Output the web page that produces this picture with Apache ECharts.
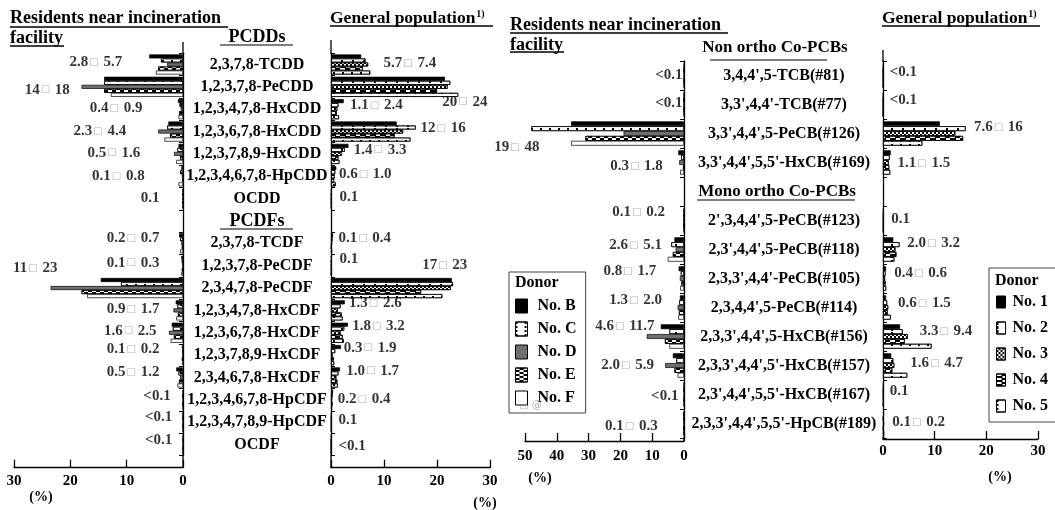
<!DOCTYPE html>
<html><head><meta charset="utf-8">
<script src="https://cdn.jsdelivr.net/npm/echarts@6/dist/echarts.min.js"></script>
<style>html,body{margin:0;padding:0;background:#fff}#c{width:1055px;height:510px}</style>
</head><body><div id="c"></div>
<script>
// ---------- DATA ----------
const pcddfCategories = ['2,3,7,8-TCDD','1,2,3,7,8-PeCDD','1,2,3,4,7,8-HxCDD','1,2,3,6,7,8-HxCDD','1,2,3,7,8,9-HxCDD','1,2,3,4,6,7,8-HpCDD','OCDD','PCDFs','2,3,7,8-TCDF','1,2,3,7,8-PeCDF','2,3,4,7,8-PeCDF','1,2,3,4,7,8-HxCDF','1,2,3,6,7,8-HxCDF','1,2,3,7,8,9-HxCDF','2,3,4,6,7,8-HxCDF','1,2,3,4,6,7,8-HpCDF','1,2,3,4,7,8,9-HpCDF','OCDF'];
const pcbCategories = ["3,4,4',5-TCB(#81)","3,3',4,4'-TCB(#77)","3,3',4,4',5-PeCB(#126)","3,3',4,4',5,5'-HxCB(#169)","Mono ortho Co-PCBs","2',3,4,4',5-PeCB(#123)","2,3',4,4',5-PeCB(#118)","2,3,3',4,4'-PeCB(#105)","2,3,4,4',5-PeCB(#114)","2,3,3',4,4',5-HxCB(#156)","2,3,3',4,4',5'-HxCB(#157)","2,3',4,4',5,5'-HxCB(#167)","2,3,3',4,4',5,5'-HpCB(#189)"];

const residentDonors = ['No. B','No. C','No. D','No. E','No. F'];
const generalDonors = ['No. 1','No. 2','No. 3','No. 4','No. 5'];

// Residents, PCDDs/PCDFs (%)
const resDF_B = [6.0, 14, 0.9, 2.6, 0.8, 0.3, 0.1, '-', 0.7, 0.3, 14.6, 1.3, 2.0, 0.2, 1.2, 0.05, 0.05, 0.03];
const resDF_C = [3.9, 14, 0.6, 2.8, 1.0, 0.5, 0.1, '-', 0.5, 0.2, 11, 1.0, 1.8, 0.1, 0.8, 0.05, 0.05, 0.03];
const resDF_D = [2.8, 18, 0.4, 4.4, 1.6, 0.2, 0.1, '-', 0.3, 0.1, 23.5, 1.7, 2.5, 0.1, 0.5, 0.05, 0.05, 0.03];
const resDF_E = [4.4, 14, 0.7, 2.3, 0.5, 0.1, 0.1, '-', 0.2, 0.2, 18, 0.9, 1.6, 0.2, 0.7, 0.05, 0.05, 0.03];
const resDF_F = [4.8, 12.8, 0.8, 3.3, 1.2, 0.8, 0.1, '-', 0.5, 0.3, 17, 1.2, 2.2, 0.1, 1.0, 0.05, 0.05, 0.03];
// General population, PCDDs/PCDFs (%)
const genDF_1 = [5.7, 21.5, 2.4, 12.4, 3.3, 1.0, 0.1, '-', 0.4, 0.1, 22.8, 2.6, 3.2, 1.9, 1.7, 0.4, 0.1, 0.05];
const genDF_2 = [6.5, 22.5, 1.4, 16, 2.6, 0.8, 0.1, '-', 0.3, 0.1, 23, 1.8, 2.5, 0.8, 1.4, 0.3, 0.1, 0.05];
const genDF_3 = [7.0, 22, 1.2, 13.6, 2.0, 0.7, 0.1, '-', 0.2, 0.1, 22.6, 1.3, 1.8, 0.3, 1.0, 0.2, 0.1, 0.05];
const genDF_4 = [6.0, 20, 1.1, 12, 1.4, 0.6, 0.1, '-', 0.1, 0.1, 17, 2.0, 2.2, 0.5, 1.2, 0.3, 0.1, 0.05];
const genDF_5 = [7.4, 24, 1.5, 15, 1.6, 0.9, 0.1, '-', 0.2, 0.1, 21, 2.2, 2.4, 0.6, 1.3, 0.2, 0.1, 0.05];
// Residents, Co-PCBs (%)
const resPCB_B = [0.05, 0.05, 35.5, 1.8, '-', 0.2, 3.0, 1.7, 1.3, 7.3, 3.5, 0.05, 0.3];
const resPCB_C = [0.05, 0.05, 48, 0.9, '-', 0.1, 4.0, 1.0, 1.5, 4.6, 2.4, 0.05, 0.2];
const resPCB_D = [0.05, 0.05, 19, 1.5, '-', 0.2, 2.6, 1.3, 2.0, 11.7, 5.9, 0.05, 0.1];
const resPCB_E = [0.05, 0.05, 31, 0.3, '-', 0.1, 3.5, 0.8, 1.6, 6.0, 3.0, 0.05, 0.2];
const resPCB_F = [0.05, 0.05, 35.5, 1.2, '-', 0.1, 5.1, 1.2, 1.8, 4.6, 2.0, 0.05, 0.3];
// General population, Co-PCBs (%)
const genPCB_1 = [0.05, 0.05, 11, 1.5, '-', 0.1, 2.0, 0.6, 0.6, 3.3, 1.6, 0.1, 0.2];
const genPCB_2 = [0.05, 0.05, 16, 1.3, '-', 0.1, 3.2, 0.5, 0.8, 3.8, 2.0, 0.1, 0.1];
const genPCB_3 = [0.05, 0.05, 14, 1.1, '-', 0.1, 2.4, 0.4, 1.0, 4.8, 2.2, 0.1, 0.2];
const genPCB_4 = [0.05, 0.05, 15.5, 1.2, '-', 0.1, 2.6, 0.5, 0.9, 4.2, 1.8, 0.1, 0.1];
const genPCB_5 = [0.05, 0.05, 7.6, 1.4, '-', 0.1, 2.2, 0.6, 1.5, 9.4, 4.7, 0.1, 0.2];

// Range annotations (text)
const resDFRanges = ['2.8□ 5.7','14□ 18','0.4□ 0.9','2.3□ 4.4','0.5□ 1.6','0.1□ 0.8','0.1','','0.2□ 0.7','0.1□ 0.3','11□ 23','0.9□ 1.7','1.6□ 2.5','0.1□ 0.2','0.5□ 1.2','<0.1','<0.1','<0.1'];
const genDFRanges = ['5.7□ 7.4','20□ 24','1.1□ 2.4','12□ 16','1.4□ 3.3','0.6□ 1.0','0.1','','0.1□ 0.4','0.1','17□ 23','1.3□ 2.6','1.8□ 3.2','0.3□ 1.9','1.0□ 1.7','0.2□ 0.4','0.1','<0.1'];
const resPCBRanges = ['<0.1','<0.1','19□ 48','0.3□ 1.8','','0.1□ 0.2','2.6□ 5.1','0.8□ 1.7','1.3□ 2.0','4.6□ 11.7','2.0□ 5.9','<0.1','0.1□ 0.3'];
const genPCBRanges = ['<0.1','<0.1','7.6□ 16','1.1□ 1.5','','0.1','2.0□ 3.2','0.4□ 0.6','0.6□ 1.5','3.3□ 9.4','1.6□ 4.7','0.1','0.1□ 0.2'];

// ---------- LAYOUT (annotation anchors in axis units + pixel nudges) ----------
const resDFAnnX = [10.7, 20, 7.1, 10, 7.5, 6.7, 4.1, null, 4.1, 4.1, 22.2, 4.1, 4.6, 4.1, 4.1, 2.1, 1.8, 1.8];
const resDFAnnDy = [-2.5, 3, -1, 0, -1, 0, 0, 0, -5, -3, -20, -1, -2, -6, -5, -4, -5, -4];
const genDFAnnX = [9.8, 20.9, 3.5, 16.8, 4.2, 1.4, 1.5, null, 1.3, 1.5, 17.1, 3.3, 3.9, 2.3, 2.8, 1.2, 1.3, 1.3];
const genDFAnnDy = [-1, 15, -4, -3.6, -4, -2.3, -1.6, 0, -5.3, -6.7, -23, -7.4, -6.7, -7.3, -6.7, -0.5, -2, 1.5];
const resPCBAnnX = [0.3, 0.3, 45.3, 6.5, null, 5.8, 6.8, 8.6, 6.8, 9.1, 9.3, 1.6, 8.1];
const resPCBAnnDy = [0, -1.5, 13.5, 4, 0, -8, -4.5, -7, -7, -10, 0, 1.5, 3];
const genPCBAnnX = [1.2, 1.2, 17.5, 2.7, null, 1.5, 4.6, 2.1, 2.8, 7.0, 5.2, 1.2, 1.7];
const genPCBAnnDy = [-3.5, -4.5, -6.5, 0.5, 0, -1.5, -6.5, -5.5, -4.5, -5, -2.5, -3, -1];

// ---------- STYLES ----------
const SERIF = '"Liberation Serif","Times New Roman",serif';
const DOTS = {symbol:'rect', symbolSize:1, color:'#000', dashArrayX:[2,7], dashArrayY:[2,2]};
const CHECK = {symbol:'rect', symbolSize:1, color:'#000', dashArrayX:[[4,4],[0,4,4,0]], dashArrayY:[2,0]};
const CHECK_S = {symbol:'rect', symbolSize:1, color:'#000', dashArrayX:[[2,2],[0,2,2,0]], dashArrayY:[2,0]};
const VSTRIPE = {symbol:'rect', symbolSize:1, color:'#000', dashArrayX:[1.5,9], dashArrayY:[3,1]};
const BLOCKS = {symbol:'rect', symbolSize:1, color:'#000', dashArrayX:[[6,4],[0,5,5,0]], dashArrayY:[2,0]};
const resStyles = [{color:'#000'}, {color:'#fff', decal:DOTS}, {color:'#6f6f6f'}, {color:'#fff', decal:CHECK}, {color:'#fff'}];
const genStyles = [{color:'#000'}, {color:'#fff', decal:VSTRIPE}, {color:'#fff', decal:CHECK_S}, {color:'#fff', decal:BLOCKS}, {color:'#fff', decal:DOTS}];

function bars(names, datasets, styles, idx, gap){
  return datasets.map((d,k)=>({
    type:'bar', name:names[k], data:d, xAxisIndex:idx, yAxisIndex:idx,
    barGap:'0%', barCategoryGap:gap, silent:true,
    itemStyle:Object.assign({borderColor:'#000', borderWidth:0.7}, styles[k])
  }));
}
function ann(idx, texts, xs, dys, side){
  const data = [];
  texts.forEach((t,i)=>{ if(!t) return; data.push({name:t, value:[xs[i], i], label:{offset:[0, dys[i]]}}); });
  return {type:'scatter', xAxisIndex:idx, yAxisIndex:idx, symbolSize:1, clip:false, silent:true, z:5,
    itemStyle:{color:'rgba(0,0,0,0)'}, data,
    label:{show:true, position:side, distance:0, color:'#000', fontFamily:SERIF, fontWeight:'bold', fontSize:15,
      formatter:p=>p.name.replace('□','{s|□}'),
      rich:{s:{fontFamily:'DejaVu Sans', fontSize:10, color:'#9a9a9a', fontWeight:'normal', padding:[0,1,0,1]}}}};
}
function xAxis(idx, max, inverse, offset, margin){
  return {gridIndex:idx, type:'value', min:0, max:max, interval:10, inverse:inverse, offset:offset,
    axisLine:{show:true, lineStyle:{color:'#000', width:1.3}},
    axisTick:{show:true, inside:true, length:8, lineStyle:{color:'#000', width:1.3}},
    axisLabel:{color:'#000', fontFamily:SERIF, fontWeight:'bold', fontSize:15, margin:margin},
    splitLine:{show:false}};
}
function yAxis(idx, cats, pos, showLabel, margin, hdr, hdrSize, hdrPad){
  return {gridIndex:idx, type:'category', data:cats, inverse:true, position:pos,
    axisLine:{show:true, onZero:false, lineStyle:{color:'#000', width:1.3}},
    axisTick:{show:true, inside:true, length:4, lineStyle:{color:'#000'}},
    axisLabel:{show:showLabel, interval:0, align:'center', margin:margin, color:'#000',
      fontFamily:SERIF, fontWeight:'bold', fontSize:16,
      formatter:v=> v===hdr ? '{h|'+v+'}' : v,
      rich:{h:{fontFamily:SERIF, fontWeight:'bold', fontSize:hdrSize, color:'#000', padding:hdrPad}}}};
}

const T = (x,y,text,size,align)=>({type:'text', x:x, y:y, silent:true,
  style:{text:text, fill:'#000', font:'bold '+size+'px '+SERIF, align:align||'left', verticalAlign:'middle'}});
const L = (x1,y1,x2,y2,c,w)=>({type:'line', silent:true, shape:{x1,y1,x2,y2}, style:{stroke:c||'#000', lineWidth:w||1.5}});
const SUPT = (x,y)=>({type:'text', x:x, y:y, silent:true,
  style:{text:'{a|General population}{b|1)}', fill:'#000', verticalAlign:'middle',
    rich:{a:{fontFamily:SERIF, fontWeight:'bold', fontSize:17.5, fill:'#000'},
          b:{fontFamily:SERIF, fontWeight:'bold', fontSize:10, fill:'#000', padding:[0,0,8,1]}}}});

const graphics = [
  T(10,18,'Residents near incineration',18), L(10,27,228,27),
  T(10,38,'facility',18), L(10,46,64,46),
  SUPT(330,18), L(330,26,493,26),
  T(257,37,'PCDDs',18,'center'), L(220,45,293,45,'#555',1.5),
  L(220,229,293,229,'#555',1.5),
  T(510,25,'Residents near incineration',18), L(510,33,728,33),
  T(510,45,'facility',18), L(510,52,564,52),
  SUPT(882,18), L(882,26,1040,26),
  T(775,48,'Non ortho Co-PCBs',17,'center'), L(710,60,827,60,'#555',1.5),
  L(697,200,855,200,'#555',1.5),
  T(41,497,'(%)',14,'center'), T(485,503,'(%)',14,'center'),
  T(540,478,'(%)',14,'center'), T(1000,477,'(%)',14,'center'),
  T(515,283,'Donor',16), T(995,281,'Donor',16),
  {type:'text', x:519, y:405, silent:true, style:{text:'□ @', fill:'#b0b0b0', font:'10px "DejaVu Sans"', verticalAlign:'middle'}},
  // axis line extensions
  L(183,42,183,54,'#000',1.3), L(183,455,183,468,'#000',1.3),
  L(331,40,331,54,'#000',1.3), L(331,455,331,468,'#000',1.3),
  L(684,437,684,441,'#000',1.3),
  L(883,50,883,62,'#000',1.3), L(883,437,883,439,'#000',1.3)
];

const legendBase = {orient:'vertical', icon:'rect', selectedMode:false, borderColor:'#444', borderWidth:1,
  textStyle:{color:'#000', fontFamily:SERIF, fontWeight:'bold', fontSize:16},
  itemStyle:{borderColor:'#000', borderWidth:1}};

const option = {
  animation:false,
  backgroundColor:'#fff',
  grid:[
    {left:14, top:53.3, width:169, height:402.4},
    {left:331, top:53.3, width:159, height:402.4},
    {left:525, top:61, width:159, height:377},
    {left:883, top:61, width:155, height:377}
  ],
  xAxis:[ xAxis(0,30,true,12,6), xAxis(1,30,false,12,6), xAxis(2,50,true,3,8), xAxis(3,30,false,1,5) ],
  yAxis:[
    yAxis(0, pcddfCategories, 'right', true, 74, 'PCDFs', 18, [0,0,0,0]),
    yAxis(1, pcddfCategories, 'left', false, 8, null, 16, 0),
    yAxis(2, pcbCategories, 'right', true, 100, 'Mono ortho Co-PCBs', 17, [0,14,0,0]),
    yAxis(3, pcbCategories, 'left', false, 8, null, 16, 0)
  ],
  legend:[
    Object.assign({}, legendBase, {data:residentDonors, left:509, top:272, itemWidth:12, itemHeight:14, itemGap:7,
      padding:[26,9,7,6], textStyle:Object.assign({}, legendBase.textStyle, {padding:[0,0,0,5]})}),
    Object.assign({}, legendBase, {data:generalDonors, left:989, top:268, itemWidth:9, itemHeight:12, itemGap:10,
      padding:[26,12,8,7], textStyle:Object.assign({}, legendBase.textStyle, {padding:[0,0,0,2]})})
  ],
  graphic:graphics,
  series:[].concat(
    bars(residentDonors, [resDF_B,resDF_C,resDF_D,resDF_E,resDF_F], resStyles, 0, '10%'),
    bars(generalDonors, [genDF_1,genDF_2,genDF_3,genDF_4,genDF_5], genStyles, 1, '10%'),
    bars(residentDonors, [resPCB_B,resPCB_C,resPCB_D,resPCB_E,resPCB_F], resStyles, 2, '16%'),
    bars(generalDonors, [genPCB_1,genPCB_2,genPCB_3,genPCB_4,genPCB_5], genStyles, 3, '16%'),
    [ann(0, resDFRanges, resDFAnnX, resDFAnnDy, 'left'),
     ann(1, genDFRanges, genDFAnnX, genDFAnnDy, 'right'),
     ann(2, resPCBRanges, resPCBAnnX, resPCBAnnDy, 'left'),
     ann(3, genPCBRanges, genPCBAnnX, genPCBAnnDy, 'right')]
  )
};
const chart = echarts.init(document.getElementById('c'), null, {renderer:'canvas'});
chart.setOption(option);
</script></body></html>
